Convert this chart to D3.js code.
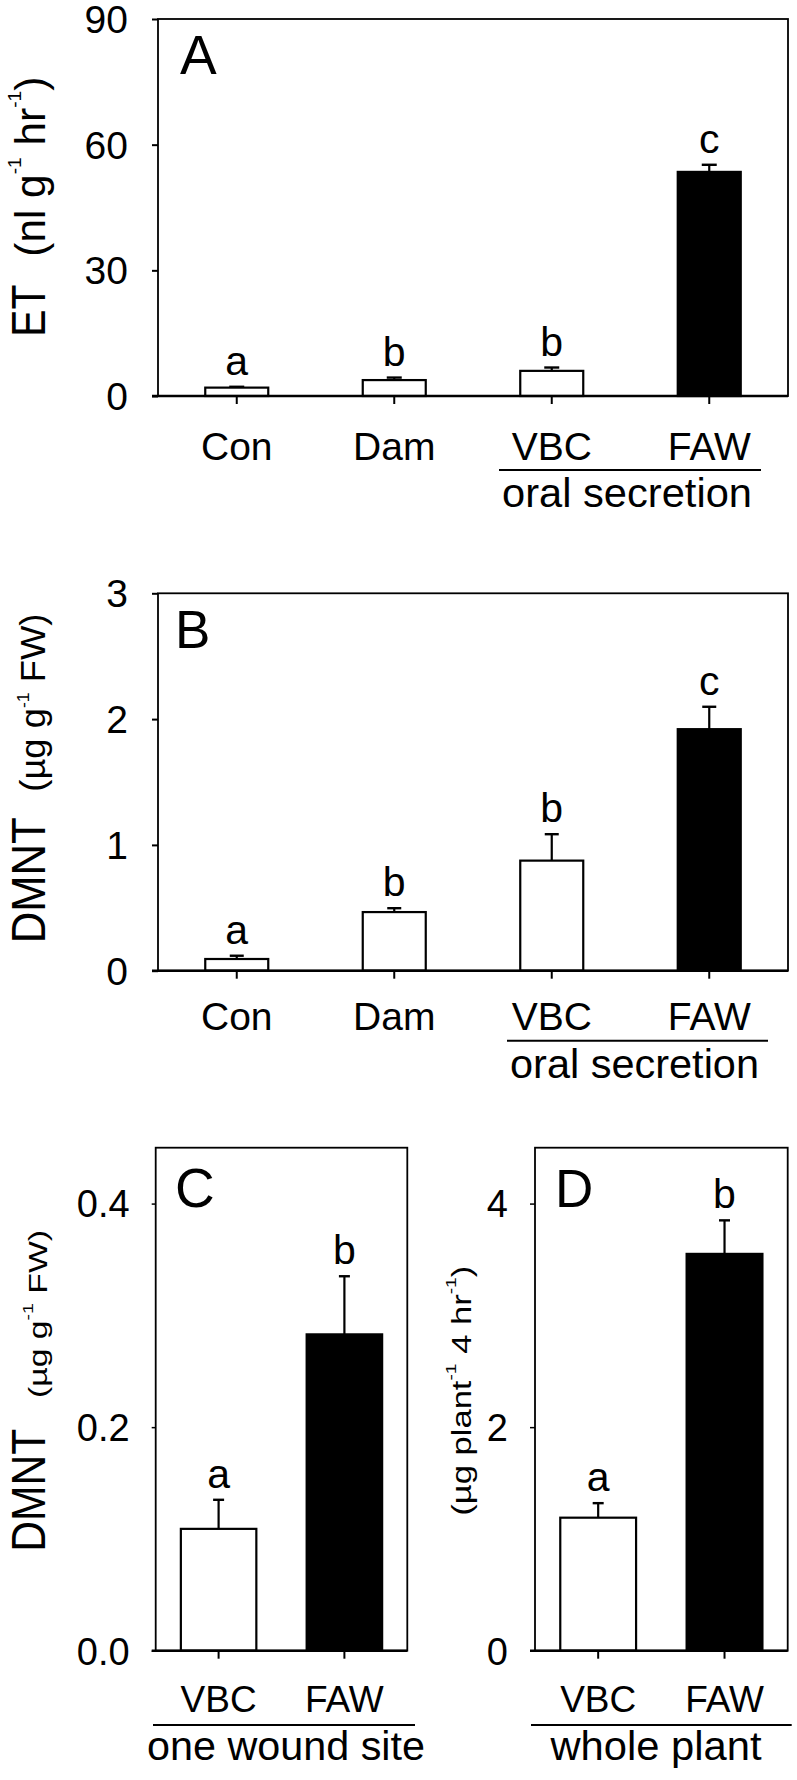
<!DOCTYPE html>
<html><head><meta charset="utf-8">
<script src="https://cdn.jsdelivr.net/npm/d3@7"></script>
<style>body{margin:0;background:#fff}svg{display:block}</style>
</head><body>
<svg id="fig" width="797" height="1780"></svg>
<script>
// ---------- data ----------
const catsAB = ["Con", "Dam", "VBC", "FAW"];
const etMean = [2.0, 3.8, 6.0, 53.5];
const etErr = [0.2, 0.6, 0.8, 1.7];
const etLetters = ["a", "b", "b", "c"];
const etTicks = [0, 30, 60, 90];

const dmntMean = [0.093, 0.466, 0.875, 1.92];
const dmntErr = [0.026, 0.031, 0.21, 0.178];
const dmntLetters = ["a", "b", "b", "c"];
const dmntTicks = [0, 1, 2, 3];

const catsCD = ["VBC", "FAW"];
const woundMean = [0.109, 0.283];
const woundErr = [0.026, 0.052];
const woundLetters = ["a", "b"];
const woundTicks = [0.0, 0.2, 0.4];

const plantMean = [1.19, 3.55];
const plantErr = [0.13, 0.30];
const plantLetters = ["a", "b"];
const plantTicks = [0, 2, 4];

const fillsAB = ["#fff", "#fff", "#fff", "#000"];
const fillsCD = ["#fff", "#000"];

// ---------- drawing ----------
const FONT = "'Liberation Sans', Arial, Helvetica, sans-serif";
const svg = d3.select("#fig").style("font-family", FONT);

function panel(c) {
  const g = svg.append("g");
  const x = d3.scaleBand().domain(c.cats).range([c.x0, c.x1])
    .paddingInner(c.pi).paddingOuter(c.po);
  const y = d3.scaleLinear().domain(c.domain).range([c.y1, c.y0]);
  const data = c.cats.map((k, i) => ({k, m: c.mean[i], e: c.err[i], l: c.letters[i], f: c.fills[i]}));

  // bars
  g.selectAll("rect.bar").data(data).join("rect").attr("class", "bar")
    .attr("x", d => x(d.k)).attr("width", x.bandwidth())
    .attr("y", d => y(d.m)).attr("height", d => y(0) - y(d.m))
    .attr("fill", d => d.f).attr("stroke", "#000").attr("stroke-width", 2.2);

  // error bars
  const cx = d => x(d.k) + x.bandwidth() / 2;
  g.selectAll("line.err").data(data).join("line").attr("class", "err")
    .attr("x1", cx).attr("x2", cx)
    .attr("y1", d => y(d.m)).attr("y2", d => y(d.m + d.e))
    .attr("stroke", "#000").attr("stroke-width", 2.2);
  g.selectAll("line.cap").data(data).join("line").attr("class", "cap")
    .attr("x1", d => cx(d) - c.capW / 2).attr("x2", d => cx(d) + c.capW / 2)
    .attr("y1", d => y(d.m + d.e)).attr("y2", d => y(d.m + d.e))
    .attr("stroke", "#000").attr("stroke-width", 2.4);

  // significance letters
  g.selectAll("text.sig").data(data).join("text").attr("class", "sig")
    .attr("x", cx).attr("y", d => y(d.m + d.e) - 12)
    .attr("text-anchor", "middle").attr("font-size", 41).text(d => d.l);

  // frame
  g.append("rect").attr("x", c.x0).attr("y", c.y0)
    .attr("width", c.x1 - c.x0).attr("height", c.y1 - c.y0)
    .attr("fill", "none").attr("stroke", "#000").attr("stroke-width", 1.8);
  g.append("line").attr("x1", c.x0 - c.yTick).attr("x2", c.x1)
    .attr("y1", c.y1).attr("y2", c.y1).attr("stroke", "#000").attr("stroke-width", 2.6);

  // y axis
  const ya = g.append("g").attr("transform", `translate(${c.x0},0)`)
    .call(d3.axisLeft(y).tickValues(c.ticks).tickSize(c.yTick)
      .tickPadding(c.yPad).tickFormat(c.fmt));
  ya.select(".domain").remove();
  ya.selectAll(".tick line").attr("stroke", "#000").attr("stroke-width", c.yTickW);
  ya.selectAll(".tick text").attr("font-size", c.tickFont).attr("font-family", FONT)
    .attr("fill", "#000").attr("dy", "0.35em");

  // x axis
  const xa = g.append("g").attr("transform", `translate(0,${c.y1})`)
    .call(d3.axisBottom(x).tickSize(8).tickSizeOuter(0));
  xa.select(".domain").remove();
  xa.selectAll(".tick line").attr("stroke", "#000").attr("stroke-width", 2);
  xa.selectAll(".tick text").attr("font-size", c.xFont).attr("font-family", FONT)
    .attr("fill", "#000").attr("y", c.xLabelDy).attr("dy", 0);

  // panel letter
  g.append("text").attr("x", c.letterX).attr("y", c.letterY)
    .attr("font-size", c.letterFont).text(c.letter);

  // group label + underline
  if (c.group) {
    const gr = c.group;
    g.append("line").attr("x1", gr.lx0).attr("x2", gr.lx1).attr("y1", gr.ly).attr("y2", gr.ly)
      .attr("stroke", "#000").attr("stroke-width", 2);
    g.append("text").attr("x", gr.tx).attr("y", gr.ty).attr("text-anchor", "middle")
      .attr("font-size", gr.font).attr("textLength", gr.len).attr("lengthAdjust", "spacingAndGlyphs")
      .text(gr.text);
  }

  // rotated axis labels
  c.ylabels.forEach(lb => {
    const t = g.append("text")
      .attr("transform", `translate(${lb.x},${lb.y}) rotate(-90)`)
      .attr("font-size", lb.font)
      .attr("textLength", lb.len).attr("lengthAdjust", "spacingAndGlyphs");
    let raised = false;
    lb.parts.forEach(p => {
      const s = t.append("tspan").text(p.t);
      if (p.sup) {
        s.attr("font-size", lb.supFont).attr("dy", -lb.supShift);
        raised = true;
      } else if (raised) {
        s.attr("dy", lb.supShift);
        raised = false;
      }
    });
  });
}

const f0 = d3.format("d");
const f1 = d3.format(".1f");

panel({
  cats: catsAB, mean: etMean, err: etErr, letters: etLetters, fills: fillsAB,
  ticks: etTicks, fmt: f0, domain: [0, 90],
  x0: 158, x1: 788, y0: 19, y1: 396, pi: 0.6, po: 0.3,
  yTick: 6, yPad: 24, yTickW: 2, tickFont: 39, xFont: 39, xLabelDy: 64, capW: 15,
  letter: "A", letterX: 180, letterY: 73.5, letterFont: 55,
  group: {text: "oral secretion", lx0: 499, lx1: 761, ly: 470, tx: 627, ty: 507, font: 41, len: 250},
  ylabels: [
    {x: 45, y: 336.7, font: 49, len: 52, parts: [{t: "ET"}]},
    {x: 45, y: 256.7, font: 42, len: 180, supFont: 19, supShift: 24,
     parts: [{t: "(nl g"}, {t: "-1", sup: true}, {t: " hr"}, {t: "-1", sup: true}, {t: ")"}]}
  ]
});

panel({
  cats: catsAB, mean: dmntMean, err: dmntErr, letters: dmntLetters, fills: fillsAB,
  ticks: dmntTicks, fmt: f0, domain: [0, 3],
  x0: 158, x1: 788, y0: 593.3, y1: 970.7, pi: 0.6, po: 0.3,
  yTick: 6, yPad: 24, yTickW: 2, tickFont: 39, xFont: 39, xLabelDy: 59.3, capW: 14,
  letter: "B", letterX: 175, letterY: 648, letterFont: 53,
  group: {text: "oral secretion", lx0: 507, lx1: 768, ly: 1040.7, tx: 634.5, ty: 1078, font: 40, len: 249},
  ylabels: [
    {x: 45, y: 943.3, font: 49, len: 126, parts: [{t: "DMNT"}]},
    {x: 45, y: 791.7, font: 35, len: 178, supFont: 17, supShift: 16,
     parts: [{t: "(\u00b5g g"}, {t: "-1", sup: true}, {t: " FW)"}]}
  ]
});

panel({
  cats: catsCD, mean: woundMean, err: woundErr, letters: woundLetters, fills: fillsCD,
  ticks: woundTicks, fmt: f1, domain: [0, 0.45],
  x0: 155.7, x1: 407.3, y0: 1147.7, y1: 1650.7, pi: 0.4, po: 0.2,
  yTick: 4, yPad: 22, yTickW: 1.5, tickFont: 38, xFont: 37, xLabelDy: 61, capW: 11,
  letter: "C", letterX: 175, letterY: 1206.7, letterFont: 55,
  group: {text: "one wound site", lx0: 153, lx1: 415, ly: 1725, tx: 286, ty: 1760, font: 40, len: 278},
  ylabels: [
    {x: 45, y: 1551.7, font: 49, len: 123, parts: [{t: "DMNT"}]},
    {x: 47, y: 1398, font: 26, len: 168, supFont: 15, supShift: 14,
     parts: [{t: "(\u00b5g g"}, {t: "-1", sup: true}, {t: " FW)"}]}
  ]
});

panel({
  cats: catsCD, mean: plantMean, err: plantErr, letters: plantLetters, fills: fillsCD,
  ticks: plantTicks, fmt: f0, domain: [0, 4.5],
  x0: 535, x1: 787.7, y0: 1147.7, y1: 1650.7, pi: 0.4, po: 0.2,
  yTick: 5, yPad: 22, yTickW: 1.5, tickFont: 38, xFont: 37, xLabelDy: 61, capW: 11,
  letter: "D", letterX: 555, letterY: 1206.7, letterFont: 53,
  group: {text: "whole plant", lx0: 531, lx1: 791.7, ly: 1725, tx: 656, ty: 1760, font: 40, len: 211},
  ylabels: [
    {x: 471, y: 1515.7, font: 27, len: 250, supFont: 15, supShift: 15,
     parts: [{t: "(\u00b5g plant"}, {t: "-1", sup: true}, {t: " 4 hr"}, {t: "-1", sup: true}, {t: ")"}]}
  ]
});
</script>
</body></html>
